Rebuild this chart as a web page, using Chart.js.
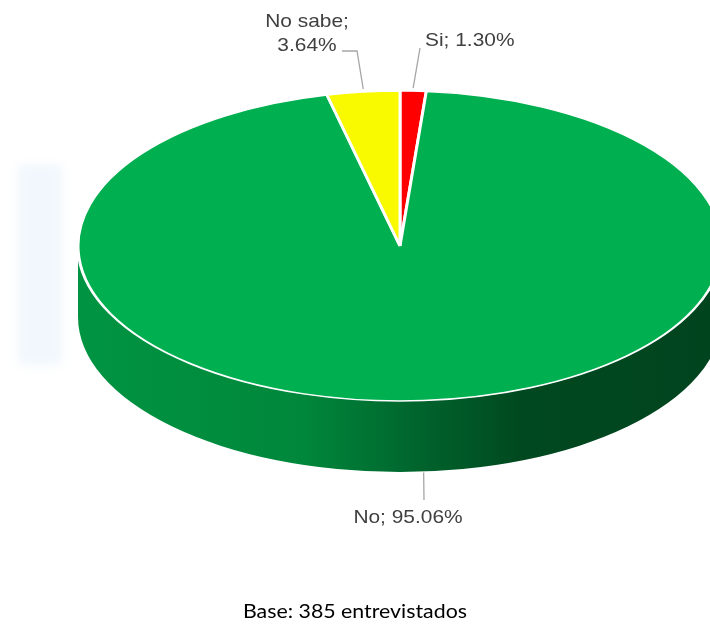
<!DOCTYPE html>
<html>
<head>
<meta charset="utf-8">
<script src="https://cdn.jsdelivr.net/npm/chart.js@4.4.1/dist/chart.umd.min.js"></script>
<style>
  html, body { margin: 0; padding: 0; background: #fff; }
  #wrap { position: relative; width: 710px; height: 624px; }
</style>
</head>
<body>
<div id="wrap"><canvas id="pieChart"></canvas></div>
<script>
// Respuestas (porcentaje de entrevistados)
const categories = ['Si', 'No', 'No sabe'];
const percentages = [1.30, 95.06, 3.64];
const baseNote = 'Base: 385 entrevistados';

const topColors = ['#ff0000', '#00b050', '#f9f900'];
// stops for the side wall of each slice (left -> right)
const wallColors = [
    ['#c00000', '#800000'],
    ['#009442', '#00873b', '#00602b', '#00481f', '#00441e'],
    ['#c8c800', '#8a8a00']
];

const TILT = 155 / 322;   // vertical squash of the top face
const DEPTH = 71;         // thickness of the pie

// where each label goes, and the elbow of its leader line
const labelLayout = [
    { x: 425, ys: [46], align: 'left', split: false, leader: [[420, 48]] },
    { x: 408, ys: [523], align: 'center', split: false, leader: [[424, 500]] },
    { x: 307, ys: [27, 51], align: 'center', split: true, leader: [[357, 51], [342, 51]] }
];

function drawStretched(ctx, text, x, y, align, sx) {
    ctx.save();
    ctx.translate(x, y);
    ctx.scale(sx, 1);
    ctx.textAlign = align;
    ctx.fillText(text, 0, 0);
    ctx.restore();
}

const pie3d = {
    id: 'pie3d',
    beforeDraw(chart) {
        // faint background mark on the left
        const ctx = chart.ctx;
        ctx.save();
        ctx.filter = 'blur(5px)';
        ctx.fillStyle = 'rgba(228, 240, 252, 0.5)';
        ctx.fillRect(18, 165, 44, 200);
        ctx.restore();
    },
    beforeDatasetsDraw(chart) {
        const ctx = chart.ctx;
        const arcs = chart.getDatasetMeta(0).data;
        const { x: cx, y: cy, outerRadius: rx } = arcs[0].getProps(['x', 'y', 'outerRadius'], true);
        const ry = rx * TILT;

        arcs.forEach((arc, i) => {
            const { startAngle, endAngle } = arc.getProps(['startAngle', 'endAngle'], true);
            [0, 2 * Math.PI].forEach(shift => {
                const a0 = Math.max(startAngle, shift);
                const a1 = Math.min(endAngle, shift + Math.PI);
                if (a1 <= a0) return;
                const grad = ctx.createLinearGradient(cx - rx, 0, cx + rx, 0);
                const stops = wallColors[i];
                const pos = stops.length === 5 ? [0, 0.35, 0.55, 0.69, 1] : [0, 1];
                stops.forEach((c, k) => grad.addColorStop(pos[k], c));
                ctx.beginPath();
                ctx.ellipse(cx, cy, rx, ry, 0, a0, a1);
                ctx.ellipse(cx, cy + DEPTH, rx, ry, 0, a1, a0, true);
                ctx.closePath();
                ctx.fillStyle = grad;
                ctx.fill();
            });
        });

        ctx.save();
        ctx.translate(cx, cy);
        ctx.scale(1, TILT);
        ctx.translate(-cx, -cy);
    },
    afterDatasetsDraw(chart) {
        chart.ctx.restore();
    },
    afterDraw(chart) {
        const ctx = chart.ctx;
        const arcs = chart.getDatasetMeta(0).data;
        const values = chart.data.datasets[0].data;

        ctx.save();
        ctx.strokeStyle = '#a6a6a6';
        ctx.lineWidth = 1.3;
        ctx.fillStyle = '#404040';
        ctx.font = '18.5px "Liberation Sans", Arial, sans-serif';
        ctx.textBaseline = 'alphabetic';

        arcs.forEach((arc, i) => {
            const { x: cx, y: cy, outerRadius: rx, startAngle, endAngle } =
                arc.getProps(['x', 'y', 'outerRadius', 'startAngle', 'endAngle'], true);
            const ry = rx * TILT;
            const mid = (startAngle + endAngle) / 2;
            const ex = cx + rx * Math.cos(mid);
            let ey = cy + ry * Math.sin(mid);
            // front slices hang their leader off the bottom of the wall
            ey += Math.sin(mid) > 0 ? DEPTH + 1 : -3;

            const lay = labelLayout[i];
            ctx.beginPath();
            ctx.moveTo(ex, ey);
            lay.leader.forEach(p => ctx.lineTo(p[0], p[1]));
            ctx.stroke();

            const pct = values[i].toFixed(2) + '%';
            const lines = lay.split ? [categories[i] + ';', pct] : [categories[i] + '; ' + pct];
            lines.forEach((t, k) => drawStretched(ctx, t, lay.x, lay.ys[k], lay.align, 1.13));
        });

        // base note under the chart
        ctx.fillStyle = '#000000';
        ctx.font = '18.5px Lato, "Open Sans", sans-serif';
        const w = ctx.measureText(baseNote).width;
        drawStretched(ctx, baseNote, 355, 618, 'center', 224 / w);
        ctx.restore();
    }
};

new Chart(document.getElementById('pieChart'), {
    type: 'pie',
    data: {
        labels: categories,
        datasets: [{
            data: percentages,
            backgroundColor: topColors,
            borderColor: '#ffffff',
            borderWidth: 3,
            radius: 322,
            clip: false
        }]
    },
    options: {
        responsive: true,
        maintainAspectRatio: false,
        animation: false,
        events: [],
        layout: { padding: { left: 90, right: 0, top: 0, bottom: 132 } },
        plugins: {
            legend: { display: false },
            tooltip: { enabled: false }
        }
    },
    plugins: [pie3d]
});
</script>
</body>
</html>
